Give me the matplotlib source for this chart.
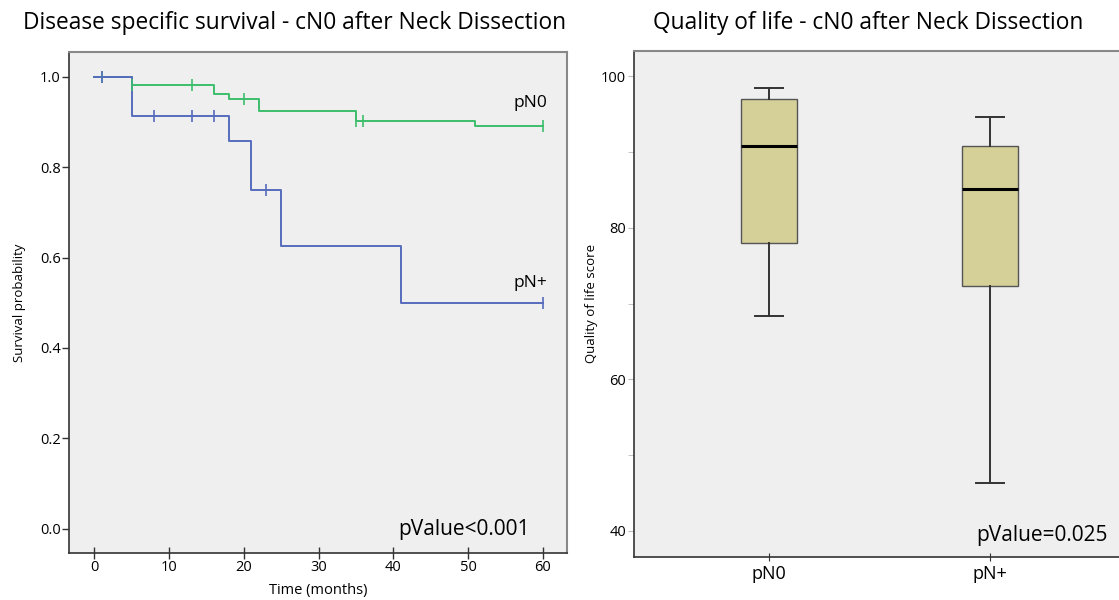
import numpy as np
import matplotlib
matplotlib.use("Agg")
import matplotlib.pyplot as plt

plt.rcParams['font.family'] = ['Open Sans', 'DejaVu Sans']

# ---- Kaplan-Meier data ----
pn0_times = [0, 5, 16, 18, 22, 35, 51, 60]
pn0_surv = [1.0, 0.982, 0.963, 0.952, 0.924, 0.903, 0.892, 0.892]
pn0_censor = [1, 5, 13, 20, 35, 36, 60]

pnp_times = [0, 5, 18, 21, 25, 41, 60]
pnp_surv = [1.0, 0.913, 0.857, 0.75, 0.625, 0.5, 0.5]
pnp_censor = [1, 8, 13, 16, 23, 60]

km_xticks = [0, 10, 20, 30, 40, 50, 60]
km_yticks = [0.0, 0.2, 0.4, 0.6, 0.8, 1.0]

# ---- Box plot data ----
box_groups = ["pN0", "pN+"]
box_whislo = [68.4, 46.3]
box_q1 = [78.0, 72.4]
box_med = [90.8, 85.1]
box_q3 = [97.0, 90.8]
box_whishi = [98.5, 94.6]
qol_major = [40, 60, 80, 100]
qol_minor = [50, 70, 90]

GREEN = "#3dbe6c"
BLUE = "#566cbc"
BG = "#efefef"
BOXFILL = "#d4d098"

W, H = 1119, 600
fig = plt.figure(figsize=(W / 100, H / 100), dpi=100)

def px_rect(l, t, r, b):
    return [l / W, 1 - b / H, (r - l) / W, (b - t) / H]

# ---------------- Left: KM ----------------
ax1 = fig.add_axes(px_rect(69, 52, 567, 553))
ax1.set_facecolor(BG)

def level(times, surv, t):
    idx = np.searchsorted(times, t, side='right') - 1
    return surv[idx]

ax1.step(pn0_times, pn0_surv, where='post', color=GREEN, lw=1.4)
ax1.step(pnp_times, pnp_surv, where='post', color=BLUE, lw=1.4)
ax1.plot(pn0_censor, [level(pn0_times, pn0_surv, t) for t in pn0_censor],
         ls='none', marker='|', ms=8, mew=1.2, color=GREEN)
ax1.plot(pnp_censor, [level(pnp_times, pnp_surv, t) for t in pnp_censor],
         ls='none', marker='|', ms=8, mew=1.2, color=BLUE)

ax1.set_xlim(-3.4, 63.25)
ax1.set_ylim(-0.054, 1.055)
ax1.set_xticks(km_xticks)
ax1.set_yticks(km_yticks)
ax1.set_yticklabels([f"{v:.1f}" for v in km_yticks])
ax1.tick_params(axis='both', labelsize=10.5, length=5, width=1, color='#333333', pad=1)
ax1.tick_params(axis='x', direction='inout', length=8)
for s in ['left', 'bottom']:
    ax1.spines[s].set_color('#333333')
    ax1.spines[s].set_linewidth(1.2)
for s in ['top', 'right']:
    ax1.spines[s].set_color('#888888')
    ax1.spines[s].set_linewidth(1.5)

ax1.set_xlabel("Time (months)", fontsize=10.5, labelpad=6)
ax1.set_ylabel("Survival probability", fontsize=9.5, labelpad=10)
ax1.text(60.6, 0.943, "pN0", fontsize=12.5, ha='right', va='center')
ax1.text(60.6, 0.543, "pN+", fontsize=12.5, ha='right', va='center')
ax1.text(58.3, -0.003, "pValue<0.001", fontsize=15, ha='right', va='center')

fig.text(295 / W, 1 - 23 / H, "Disease specific survival - cN0 after Neck Dissection",
         fontsize=16.4, ha='center', va='center')

# ---------------- Right: Box plot ----------------
ax2 = fig.add_axes(px_rect(634.3, 50.7, 1125, 556.7))
ax2.set_facecolor(BG)
stats = []
for i, g in enumerate(box_groups):
    stats.append(dict(label=g, whislo=box_whislo[i], q1=box_q1[i], med=box_med[i],
                      q3=box_q3[i], whishi=box_whishi[i], fliers=[]))
ax2.bxp(stats, positions=[1, 2], widths=0.251, patch_artist=True, showfliers=False,
        boxprops=dict(facecolor=BOXFILL, edgecolor='#555555', linewidth=1.0),
        medianprops=dict(color='black', linewidth=2.2),
        whiskerprops=dict(color='#333333', linewidth=1.4),
        capprops=dict(color='#333333', linewidth=1.4),
        capwidths=0.126)
ax2.set_xlim(0.39, 2.61)
ax2.set_ylim(36.6, 103.4)
ax2.set_yticks(qol_major)
ax2.set_yticks(qol_minor, minor=True)
ax2.set_xticks([1, 2])
ax2.set_xticklabels(box_groups)
ax2.tick_params(axis='y', which='major', labelsize=10.5, length=4, color='#bbbbbb', pad=2)
ax2.tick_params(axis='y', which='minor', length=4, color='#bbbbbb')
ax2.tick_params(axis='x', labelsize=13, length=6, direction='inout', color='#333333', pad=3)
for s in ['left', 'bottom']:
    ax2.spines[s].set_color('#333333')
    ax2.spines[s].set_linewidth(1.2)
for s in ['top', 'right']:
    ax2.spines[s].set_color('#888888')
    ax2.spines[s].set_linewidth(1.5)
ax2.set_ylabel("Quality of life score", fontsize=9.5, labelpad=2)
ax2.text(2.531, 39.4, "pValue=0.025", fontsize=15, ha='right', va='center')

fig.text(868 / W, 1 - 23 / H, "Quality of life - cN0 after Neck Dissection",
         fontsize=16.4, ha='center', va='center')

fig.savefig("out.png", dpi=100)
